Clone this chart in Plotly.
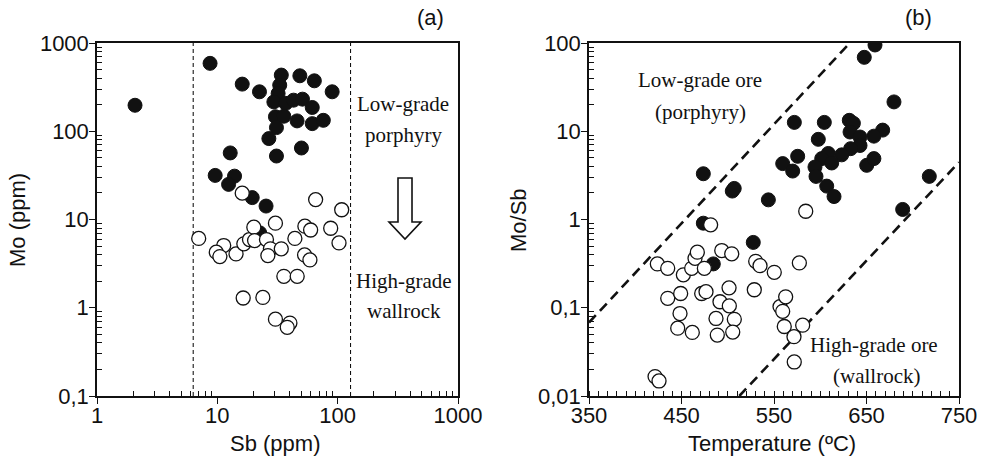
import plotly.graph_objects as go

W, H = 983, 461

# ---------------- data: panel (a) ----------------
a_filled_sb = [2.07, 8.7, 16.1, 22.4, 34, 48.5, 64, 90, 33, 32, 29.5, 37, 43, 51, 61.5,
               30.4, 35.7, 46, 61.5, 76, 31, 26.8, 50, 31, 12.8, 9.6, 13.9, 12.4, 19.5, 25.4, 22.5]
a_filled_mo = [197, 588, 342, 280, 433, 425, 373, 280, 333, 268, 215, 207, 225, 231, 186,
               146, 148, 131, 122, 133, 110, 82.6, 64.6, 52.4, 56.8, 31.6, 31, 25, 17.7, 14.2, 7.06]
a_open_sb = [16.1, 65.6, 108, 7.0, 11.3, 9.8, 10.5, 14.3, 16.6, 18.5, 20.1, 20.4, 30.4, 25.6,
             27.6, 26.3, 34, 44.1, 53.4, 59.6, 87.5, 102.6, 53.1, 58.8, 35.7, 46.1, 16.4, 23.9,
             30.4, 40.1, 38.1]
a_open_mo = [19.9, 16.8, 12.9, 6.1, 5.07, 4.26, 3.8, 4.07, 5.3, 5.93, 8.18, 5.77, 9.08, 5.93,
             4.65, 3.9, 4.65, 6.1, 8.4, 7.6, 7.96, 5.43, 3.97, 3.48, 2.27, 2.27, 1.29, 1.31,
             0.743, 0.67, 0.6]
a_sb_limits = [6.3, 128]
a_mo_span = [0.1, 1000]

# ---------------- data: panel (b) ----------------
b_filled_t = [473.6, 504.9, 507, 543.9, 473.6, 527.6, 659.2, 647.6, 679.7, 572, 604.4, 631.4,
              635.8, 597.9, 632.2, 643, 667.5, 658, 643, 632.9, 623.2, 608.7, 601.6, 612.4,
              575.6, 559.4, 570.2, 594.3, 595.4, 607, 614.9, 650.2, 658, 717.9, 689.1, 484.4]
b_filled_v = [3.3, 2.1, 2.25, 1.67, 0.908, 0.55, 95, 68.8, 21.5, 12.6, 12.6, 13.3,
              12.3, 8.1, 9.8, 8.6, 10.3, 8.8, 6.9, 6.35, 5.4, 5.6, 4.9, 4.37,
              5.2, 4.3, 3.54, 3.93, 3.08, 2.39, 1.82, 4.11, 4.9, 3.08, 1.3, 0.314]
b_open_t = [481.5, 584.3, 423.9, 435.1, 452, 461, 464.6, 467.1, 474.7, 493.5, 504.3, 530.2,
            534.9, 550.3, 577.4, 435.1, 449.1, 471.8, 476.5, 501.4, 491.6, 501.7, 528.7,
            448.4, 445.9, 461.7, 487.3, 507.1, 488.7, 505.4, 556.5, 559.4, 562.6, 561.1,
            571.6, 571.9, 421.4, 425.7, 581]
b_open_v = [0.87, 1.24, 0.314, 0.28, 0.236, 0.28, 0.363, 0.426, 0.28, 0.445, 0.408, 0.336,
            0.3, 0.252, 0.322, 0.128, 0.145, 0.145, 0.152, 0.168, 0.117, 0.105, 0.16,
            0.086, 0.0587, 0.0525, 0.0756, 0.074, 0.049, 0.053, 0.103, 0.091, 0.133, 0.0613,
            0.047, 0.0243, 0.0166, 0.0148, 0.0635]
b_upper_t = [350, 632]
b_upper_v = [0.068, 100]
b_lower_t = [512.5, 750]
b_lower_v = [0.01, 4.45]

a_xticks = [1, 10, 100, 1000]
a_xtext = ["1", "10", "100", "1000"]
a_yticks = [0.1, 1, 10, 100, 1000]
a_ytext = ["0,1", "1", "10", "100", "1000"]
b_xticks = [350, 450, 550, 650, 750]
b_yticks = [0.01, 0.1, 1, 10, 100]
b_ytext = ["0,01", "0,1", "1", "10", "100"]


def minor_log(lo, hi):
    vals = []
    d = lo
    while d < hi:
        for m in range(2, 10):
            vals.append(round(d * m, 6))
        d *= 10
    return vals


def px(x):
    return x / W


def py(y):
    return 1 - y / H


SANS = "Liberation Sans, Arial, sans-serif"
SERIF = "Liberation Serif, Times New Roman, serif"
MS = 14

fig = go.Figure()

# panel (a)
for s in a_sb_limits:
    fig.add_trace(go.Scatter(x=[s, s], y=a_mo_span, mode="lines", xaxis="x", yaxis="y",
                             line=dict(color="black", width=1, dash="4px,3px"), showlegend=False))
fig.add_trace(go.Scatter(x=a_filled_sb, y=a_filled_mo, mode="markers", xaxis="x", yaxis="y",
                         marker=dict(size=MS, color="#111111", line=dict(width=1, color="#111111")),
                         showlegend=False))
fig.add_trace(go.Scatter(x=a_open_sb, y=a_open_mo, mode="markers", xaxis="x", yaxis="y",
                         marker=dict(size=MS, color="white", line=dict(width=1.3, color="#111111")),
                         showlegend=False))

# panel (b)
fig.add_trace(go.Scatter(x=b_upper_t, y=b_upper_v, mode="lines", xaxis="x2", yaxis="y2",
                         line=dict(color="#111111", width=2.6, dash="10px,6px"), showlegend=False))
fig.add_trace(go.Scatter(x=b_lower_t, y=b_lower_v, mode="lines", xaxis="x2", yaxis="y2",
                         line=dict(color="#111111", width=2.6, dash="10px,6px"), showlegend=False))
fig.add_trace(go.Scatter(x=b_filled_t, y=b_filled_v, mode="markers", xaxis="x2", yaxis="y2",
                         marker=dict(size=MS, color="#111111", line=dict(width=1, color="#111111")),
                         showlegend=False))
fig.add_trace(go.Scatter(x=b_open_t, y=b_open_v, mode="markers", xaxis="x2", yaxis="y2",
                         marker=dict(size=MS, color="white", line=dict(width=1.3, color="#111111")),
                         showlegend=False))

tickfont = dict(family=SANS, size=22, color="#111111")
common = dict(showline=True, linecolor="#111111", linewidth=1.5, mirror=True, showgrid=False,
              zeroline=False, ticks="outside", ticklen=6, tickwidth=1.2, tickcolor="#111111",
              tickfont=tickfont, automargin=False)

ya = 1 - 396 / H
yb = 1 - 43 / H

fig.update_layout(
    width=W, height=H, margin=dict(l=0, r=0, t=0, b=0, autoexpand=False),
    paper_bgcolor="white", plot_bgcolor="white",
    xaxis=dict(domain=[px(97), px(458)], type="log", range=[0, 3], anchor="y",
               tickmode="array", tickvals=a_xticks, ticktext=a_xtext, ticklabelstandoff=-7,
               minor=dict(tickmode="array", tickvals=minor_log(1, 1000), ticks="inside",
                          ticklen=5, tickwidth=1, tickcolor="#111111"), **common),
    yaxis=dict(domain=[ya, yb], type="log", range=[-1, 3], anchor="x",
               tickmode="array", tickvals=a_yticks, ticktext=a_ytext, ticklabelstandoff=-4,
               minor=dict(tickmode="array", tickvals=minor_log(0.1, 1000), ticks="inside",
                          ticklen=5, tickwidth=1, tickcolor="#111111"), **common),
    xaxis2=dict(domain=[px(589), px(959)], range=[350, 750], anchor="y2",
                tickmode="array", tickvals=b_xticks, ticklabelstandoff=-7,
                minor=dict(dtick=10, tick0=350, ticks="inside", ticklen=5, tickwidth=1,
                           tickcolor="#111111"), **common),
    yaxis2=dict(domain=[ya, yb], type="log", range=[-2, 2], anchor="x2",
                tickmode="array", tickvals=b_yticks, ticktext=b_ytext, ticklabelstandoff=-4,
                minor=dict(tickmode="array", tickvals=minor_log(0.01, 100), ticks="inside",
                           ticklen=5, tickwidth=1, tickcolor="#111111"), **common),
)

ann = []


def text(x, y, s, font, size, **kw):
    ann.append(dict(x=px(x), y=py(y), xref="paper", yref="paper", text=s, showarrow=False,
                    xanchor="center", yanchor="middle",
                    font=dict(family=font, size=size, color="#111111"), **kw))


text(430, 18, "(a)", SANS, 22)
text(918, 18, "(b)", SANS, 22)
text(275, 443, "Sb (ppm)", SANS, 22)
text(772, 443, "Temperature (ºC)", SANS, 22)
text(18, 220, "Mo (ppm)", SANS, 22, textangle=-90)
text(519, 220, "Mo/Sb", SANS, 22, textangle=-90)
text(403, 104, "Low-grade", SERIF, 21)
text(403, 135, "porphyry", SERIF, 21)
text(404, 281, "High-grade", SERIF, 21)
text(404, 311, "wallrock", SERIF, 21)
text(700, 80, "Low-grade ore", SERIF, 21)
text(700, 112, "(porphyry)", SERIF, 21)
text(874, 345, "High-grade ore", SERIF, 21)
text(876, 376, "(wallrock)", SERIF, 21)
fig.update_layout(annotations=ann)

# hollow down arrow (decoration) in panel (a)
pts = [(398, 178), (412, 178), (412, 222), (421, 222), (405, 239), (389, 222), (398, 222)]
path = "M " + " L ".join(f"{px(x):.5f},{py(y):.5f}" for x, y in pts) + " Z"
fig.add_shape(type="path", path=path, xref="paper", yref="paper",
              line=dict(color="#111111", width=1.6), fillcolor="white")

fig.write_html("out.html")
